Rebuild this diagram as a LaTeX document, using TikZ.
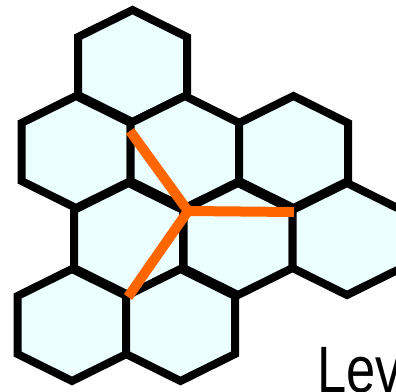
\documentclass[tikz,border=0pt]{standalone}
\usepackage{fontspec}
\newfontfamily\labfont{Liberation Sans}
\definecolor{hexfill}{RGB}{235,255,255}
\definecolor{armcol}{RGB}{255,102,0}
\begin{document}
\begin{tikzpicture}[x=1pt,y=-1pt,
  hexcell/.style={draw=black, fill=hexfill, line width=8pt, line join=miter},
  armline/.style={draw=armcol, line width=10pt, line cap=butt, line join=round},
  hexa/.pic={\path[hexcell] (0,-56) -- (54.5,-29) -- (54.5,29) -- (0,56) -- (-54.5,29) -- (-54.5,-29) -- cycle;}]
\useasboundingbox (0,0) rectangle (396,391);
\clip (0,0) rectangle (396,391);
\foreach \cx/\cy in {132.5/66, 76/152, 185/152, 293.5/152, 128.5/239, 238/239, 347/239, 72/325, 180.5/325}
  \pic at (\cx,\cy) {hexa};
\coordinate (J) at (188,211);
\coordinate (A) at (130,131);
\coordinate (B) at (294,212);
\coordinate (C) at (128,297);
\path[armline] (A) -- (J) -- (B);
\path[armline] (J) -- (C);
\fill[armcol] (J) circle (5);
\node[anchor=base west, inner sep=0pt] (lab) at (317,392) {\scalebox{0.8}[1]{\labfont\fontsize{65.6}{70}\selectfont Lev}};
\end{tikzpicture}
\end{document}
